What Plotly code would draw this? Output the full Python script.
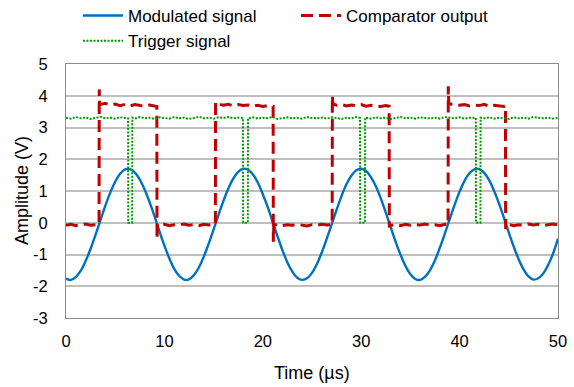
import plotly.graph_objects as go

# ---- Modulated signal (V) sampled every 0.5 us ----
mod_t = [i * 0.5 for i in range(101)]
mod_v = [-1.76, -1.80, -1.71, -1.51, -1.20, -0.82, -0.38, 0.08, 0.54, 0.95,
         1.29, 1.54, 1.68, 1.69, 1.58, 1.36, 1.04, 0.64, 0.20, -0.27,
         -0.72, -1.12, -1.45, -1.67, -1.79, -1.78, -1.65, -1.41, -1.07, -0.66,
         -0.21, 0.25, 0.69, 1.08, 1.39, 1.60, 1.70, 1.67, 1.52, 1.26,
         0.90, 0.49, 0.03, -0.43, -0.87, -1.25, -1.54, -1.73, -1.80, -1.75,
         -1.58, -1.30, -0.93, -0.50, -0.05, 0.41, 0.84, 1.21, 1.48, 1.65,
         1.70, 1.63, 1.43, 1.14, 0.76, 0.32, -0.14, -0.60, -1.01, -1.36,
         -1.62, -1.77, -1.80, -1.70, -1.49, -1.18, -0.78, -0.34, 0.12, 0.57,
         0.98, 1.32, 1.56, 1.68, 1.69, 1.57, 1.34, 1.01, 0.61, 0.16,
         -0.31, -0.75, -1.15, -1.47, -1.69, -1.79, -1.75, -1.60, -1.33, -0.97,
         -0.50]

# ---- Comparator output (V) ----
comp_t = [0, 0.5, 1.0, 1.5, 2.0, 2.5, 3.0, 3.36, 3.38, 3.42,
          4.0, 4.5, 5.0, 5.5, 6.0, 6.5, 7.0, 7.5, 8.0, 8.5, 9.0, 9.23,
          9.25, 9.3,
          9.5, 10, 10.5, 11, 11.5, 12, 12.5, 13, 13.5, 14, 14.5, 15, 15.18,
          15.2,
          15.5, 16, 16.5, 17, 17.5, 18, 18.5, 19, 19.5, 20, 20.5, 21.05,
          21.07, 21.12,
          21.5, 22, 22.5, 23, 23.5, 24, 24.5, 25, 25.5, 26, 26.5, 27.05,
          27.07, 27.12,
          27.5, 28, 28.5, 29, 29.5, 30, 30.5, 31, 31.5, 32, 32.5, 32.84,
          32.86, 32.9,
          33.5, 34, 34.5, 35, 35.5, 36, 36.5, 37, 37.5, 38, 38.5, 38.83,
          38.85, 38.9,
          39.5, 40, 40.5, 41, 41.5, 42, 42.5, 43, 43.5, 44, 44.5, 44.66,
          44.68, 44.72,
          45, 45.5, 46, 46.5, 47, 47.5, 48, 48.5, 49, 49.5, 50]
comp_v = [-0.08, -0.05, -0.09, -0.06, -0.04, -0.08, -0.06, -0.05, 4.2, 3.72,
          3.76, 3.71, 3.74, 3.69, 3.73, 3.68, 3.72, 3.70, 3.67, 3.71, 3.68, 3.66,
          -0.52, -0.06,
          -0.08, -0.05, -0.09, -0.06, -0.07, -0.04, -0.08, -0.06, -0.09, -0.05, -0.07, -0.06, -0.04,
          3.80,
          3.74, 3.70, 3.73, 3.68, 3.72, 3.69, 3.71, 3.67, 3.70, 3.66, 3.69, 3.67,
          -0.60, -0.07,
          -0.05, -0.09, -0.06, -0.08, -0.05, -0.07, -0.10, -0.06, -0.08, -0.05, -0.07, -0.06,
          4.00, 3.74,
          3.70, 3.73, 3.68, 3.71, 3.69, 3.72, 3.67, 3.70, 3.68, 3.66, 3.69, 3.67,
          -0.15, -0.08,
          -0.06, -0.09, -0.05, -0.08, -0.06, -0.07, -0.04, -0.08, -0.06, -0.09, -0.05, -0.06,
          4.30, 3.73,
          3.75, 3.70, 3.72, 3.68, 3.71, 3.69, 3.73, 3.67, 3.70, 3.68, 3.66, 3.69,
          -0.20, -0.08,
          -0.05, -0.09, -0.06, -0.08, -0.04, -0.07, -0.05, -0.09, -0.06, -0.04, -0.07]

# ---- Trigger signal (V) ----
trig_t = [0, 0.5, 1, 1.5, 2, 2.5, 3, 3.5, 4, 4.5, 5, 5.5, 6, 6.31,
          6.33, 6.72, 6.74,
          7, 7.5, 8, 8.5, 9, 9.5, 10, 10.5, 11, 11.5, 12, 12.5, 13, 13.5,
          14, 14.5, 15, 15.5, 16, 16.5, 17, 17.5, 17.98,
          18.0, 18.48, 18.5,
          19, 19.5, 20, 20.5, 21, 21.5, 22, 22.5, 23, 23.5, 24, 24.5, 25,
          25.5, 26, 26.5, 27, 27.5, 28, 28.5, 29, 29.5, 29.88,
          29.9, 30.38, 30.4,
          31, 31.5, 32, 32.5, 33, 33.5, 34, 34.5, 35, 35.5, 36, 36.5, 37,
          37.5, 38, 38.5, 39, 39.5, 40, 40.5, 41, 41.5, 41.65,
          41.67, 42.12, 42.14,
          42.5, 43, 43.5, 44, 44.5, 45, 45.5, 46, 46.5, 47, 47.5, 48, 48.5,
          49, 49.5, 50]
trig_v = [3.31, 3.28, 3.33, 3.29, 3.32, 3.27, 3.30, 3.34, 3.29, 3.31, 3.28, 3.32, 3.30, 3.29,
          0.0, 0.0, 3.31,
          3.28, 3.33, 3.29, 3.31, 3.27, 3.32, 3.30, 3.28, 3.33, 3.29, 3.31, 3.27, 3.30, 3.34,
          3.29, 3.31, 3.28, 3.32, 3.30, 3.33, 3.29, 3.31, 3.30,
          0.0, 0.0, 3.29,
          3.32, 3.28, 3.31, 3.29, 3.33, 3.27, 3.30, 3.32, 3.29, 3.31, 3.28, 3.33, 3.30,
          3.29, 3.31, 3.28, 3.32, 3.30, 3.27, 3.31, 3.29, 3.33, 3.30,
          0.0, 0.0, 3.31,
          3.28, 3.32, 3.29, 3.31, 3.27, 3.30, 3.33, 3.29, 3.31, 3.28, 3.32, 3.30, 3.29,
          3.31, 3.28, 3.33, 3.30, 3.29, 3.32, 3.28, 3.31, 3.29, 3.30,
          0.0, 0.0, 3.31,
          3.29, 3.32, 3.28, 3.31, 3.30, 3.27, 3.32, 3.29, 3.31, 3.28, 3.33, 3.30, 3.29,
          3.31, 3.28, 3.30]

x_ticks = [0, 10, 20, 30, 40, 50]
y_ticks = [-3, -2, -1, 0, 1, 2, 3, 4, 5]
y_tick_labels = ["-3", "-2", "-1", "0", "1", "2", "3", "4", "5"]

FONT = "Liberation Sans, Arial, sans-serif"
W, H = 574, 387
L, R, T, B = 66, 16, 64, 69
PW, PH = W - L - R, H - T - B

fig = go.Figure()
fig.add_trace(go.Scatter(x=mod_t, y=mod_v, mode="lines", name="Modulated signal",
                         line=dict(color="#0070C0", width=2.4, shape="spline")))
fig.add_trace(go.Scatter(x=comp_t, y=comp_v, mode="lines", name="Comparator output",
                         line=dict(color="#C00000", width=3, dash="12px,6px")))
fig.add_trace(go.Scatter(x=trig_t, y=trig_v, mode="lines", name="Trigger signal",
                         line=dict(color="#009A00", width=2, dash="2px,1.5px")))

fig.update_layout(
    width=W, height=H,
    margin=dict(l=L, r=R, t=T, b=B, autoexpand=False),
    paper_bgcolor="white", plot_bgcolor="white",
    font=dict(family=FONT, size=16, color="#000000"),
    showlegend=True,
    legend=dict(orientation="h", xref="paper", yref="paper",
                x=(78 - L) / PW, y=1 + 66 / PH, xanchor="left", yanchor="top",
                entrywidth=163, entrywidthmode="pixels",
                font=dict(size=17), bgcolor="rgba(0,0,0,0)", tracegroupgap=0,
                itemwidth=40),
    xaxis=dict(range=[0, 50], tickvals=x_ticks, showgrid=False, zeroline=False,
               showline=True, mirror=True, linecolor="#8C8C8C", linewidth=1,
               ticks="", ticklabelstandoff=8, automargin=False,
               tickfont=dict(size=16.5)),
    yaxis=dict(range=[-3, 5], tickvals=y_ticks, ticktext=y_tick_labels,
               showgrid=True, gridcolor="#BFBFBF",
               gridwidth=1.5, zeroline=False,
               showline=True, mirror=True, linecolor="#8C8C8C", linewidth=1,
               ticks="", ticklabelstandoff=14, automargin=False,
               tickfont=dict(size=16.5)),
    annotations=[
        dict(text="Time (µs)", xref="paper", yref="paper",
             x=0.5, y=-(373 - (T + PH)) / PH, xanchor="center", yanchor="middle",
             showarrow=False, font=dict(size=18)),
        dict(text="Amplitude (V)", xref="paper", yref="paper", textangle=-90,
             x=-(L - 22) / PW, y=0.5, xanchor="center", yanchor="middle",
             showarrow=False, font=dict(size=18)),
    ],
)

fig.write_html("out.html", config={"displayModeBar": False},
               post_script="document.body.style.margin='0';")
